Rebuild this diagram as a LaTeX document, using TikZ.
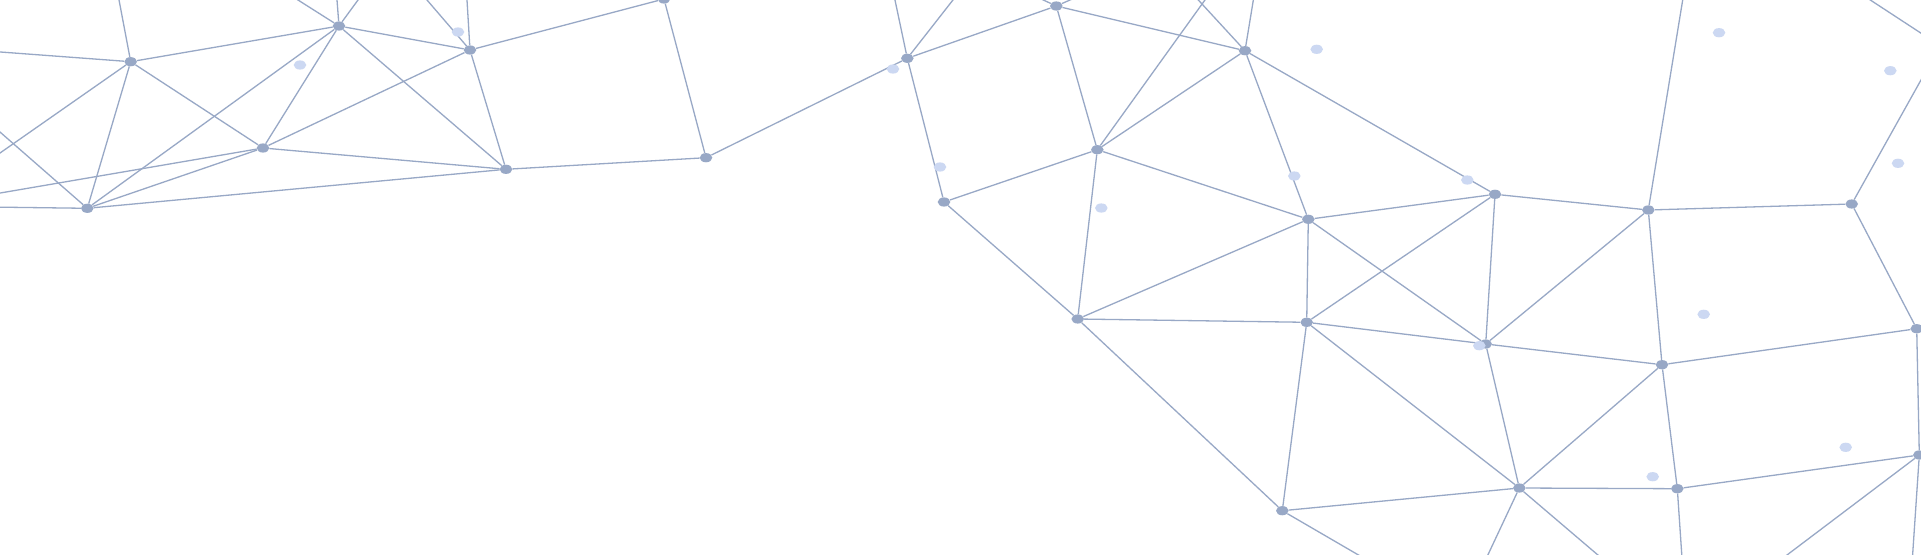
\documentclass[tikz,border=0pt]{standalone}
\usetikzlibrary{shapes.geometric}
\definecolor{meshc}{RGB}{152,168,198}
\definecolor{dotc}{RGB}{204,216,242}
\begin{document}
\begin{tikzpicture}[x=1pt,y=-1pt,
  nd/.style={ellipse,fill=meshc,inner sep=0pt,minimum width=12.6pt,minimum height=9.2pt},
  ld/.style={ellipse,fill=dotc,inner sep=0pt,minimum width=12.6pt,minimum height=9.2pt},
  ln/.style={draw=meshc,line width=1.3pt}]
\useasboundingbox (0,0) rectangle (1921,554);
\clip (0,0) rectangle (1921,554);
\fill[white] (0,0) rectangle (1921,554);
% mesh nodes
\node[nd] (A1) at (130.7,61.7) {};
\node[nd] (A2) at (339,26) {};
\node[nd] (A3) at (470,50) {};
\node[nd] (A4) at (263,148) {};
\node[nd] (A5) at (87.3,208.3) {};
\node[nd] (A6) at (506,169.3) {};
\node[nd] (T1) at (664,-1) {};
\node[nd] (B1) at (706,157.7) {};
\node[nd] (B2) at (907.3,58.3) {};
\node[nd] (B3) at (944,202) {};
\node[nd] (C1) at (1056.3,6) {};
\node[nd] (C2) at (1097.3,149.7) {};
\node[nd] (C3) at (1245,50.7) {};
\node[nd] (C4) at (1308.3,219.3) {};
\node[nd] (D1) at (1077.7,319) {};
\node[nd] (D2) at (1306.7,322.3) {};
\node[nd] (D3) at (1282.3,510.7) {};
\node[nd] (E1) at (1495,194.3) {};
\node[nd] (E2) at (1648.3,210) {};
\node[nd] (E3) at (1485.7,344) {};
\node[nd] (E4) at (1519.3,488) {};
\node[nd] (E5) at (1851.7,204) {};
\node[nd] (E6) at (1662,364.7) {};
\node[nd] (E7) at (1916.7,328.7) {};
\node[nd] (E8) at (1677.3,488.7) {};
\node[nd] (E9) at (1919.3,455) {};
% off-canvas ends
\coordinate (oA1t) at (116.7,-12.3);
\coordinate (oA1l) at (-13,51);
\coordinate (oA1b) at (-13,162.1);
\coordinate (oA5u) at (-13.1,120.6);
\coordinate (oA5l) at (-13,207);
\coordinate (oA4l) at (-13.2,195.3);
\coordinate (oA3u) at (466.4,-10);
\coordinate (oA3ul) at (418.4,-10);
\coordinate (oA2u) at (336.2,-10.4);
\coordinate (oA2ur) at (365.6,-10.4);
\coordinate (oA2ul) at (281.6,-10.4);
\coordinate (oB2u) at (892.5,-11.7);
\coordinate (oB2ur) at (962.1,-11.7);
\coordinate (oC1ul) at (1017.3,-12);
\coordinate (oC1ur) at (1097.4,-12);
\coordinate (oC3ul) at (1189,-10.1);
\coordinate (oC3u) at (1255,-10.1);
\coordinate (oC2ur) at (1212.5,-10.5);
\coordinate (oE2u) at (1684.4,-10.5);
\coordinate (oE5r) at (1927.9,67.6);
\coordinate (oK1) at (1855,-10);
\coordinate (oK2) at (1936,43);
\coordinate (oD3d) at (1375.3,564.8);
\coordinate (oE4dl) at (1482.1,567.2);
\coordinate (oE4dr) at (1612.2,567.2);
\coordinate (oE8d) at (1682.6,567.1);
\coordinate (oE9dl) at (1775.2,563.9);
\coordinate (oE9d) at (1912,563.9);
% connectors
\draw[ln] (A1) -- (oA1t);
\draw[ln] (A1) -- (oA1l);
\draw[ln] (A1) -- (oA1b);
\draw[ln] (A1) -- (A2);
\draw[ln] (A1) -- (A4);
\draw[ln] (A1) -- (A5);
\draw[ln] (A5) -- (oA5u);
\draw[ln] (A5) -- (oA5l);
\draw[ln] (A5) -- (A4);
\draw[ln] (A5) -- (A2);
\draw[ln] (A5) -- (A6);
\draw[ln] (A4) -- (oA4l);
\draw[ln] (A4) -- (A2);
\draw[ln] (A4) -- (A3);
\draw[ln] (A4) -- (A6);
\draw[ln] (A2) -- (A3);
\draw[ln] (A2) -- (A6);
\draw[ln] (A2) -- (oA2u);
\draw[ln] (A2) -- (oA2ur);
\draw[ln] (A2) -- (oA2ul);
\draw[ln] (A3) -- (A6);
\draw[ln] (A3) -- (T1);
\draw[ln] (A3) -- (oA3u);
\draw[ln] (A3) -- (oA3ul);
\draw[ln] (A6) -- (B1);
\draw[ln] (B1) -- (T1);
\draw[ln] (B1) -- (B2);
\draw[ln] (B2) -- (oB2u);
\draw[ln] (B2) -- (oB2ur);
\draw[ln] (B2) -- (C1);
\draw[ln] (B2) -- (B3);
\draw[ln] (B3) -- (C2);
\draw[ln] (B3) -- (D1);
\draw[ln] (C1) -- (C3);
\draw[ln] (C1) -- (C2);
\draw[ln] (C1) -- (oC1ul);
\draw[ln] (C1) -- (oC1ur);
\draw[ln] (C3) -- (C2);
\draw[ln] (C3) -- (C4);
\draw[ln] (C3) -- (E1);
\draw[ln] (C3) -- (oC3ul);
\draw[ln] (C3) -- (oC3u);
\draw[ln] (C2) -- (oC2ur);
\draw[ln] (C2) -- (C4);
\draw[ln] (C2) -- (D1);
\draw[ln] (C4) -- (E1);
\draw[ln] (C4) -- (D1);
\draw[ln] (C4) -- (D2);
\draw[ln] (C4) -- (E3);
\draw[ln] (D1) -- (D2);
\draw[ln] (D1) -- (D3);
\draw[ln] (D2) -- (E1);
\draw[ln] (D2) -- (E3);
\draw[ln] (D2) -- (E4);
\draw[ln] (D2) -- (D3);
\draw[ln] (D3) -- (E4);
\draw[ln] (D3) -- (oD3d);
\draw[ln] (E1) -- (E2);
\draw[ln] (E1) -- (E3);
\draw[ln] (E2) -- (oE2u);
\draw[ln] (E2) -- (E5);
\draw[ln] (E2) -- (E3);
\draw[ln] (E2) -- (E6);
\draw[ln] (E3) -- (E6);
\draw[ln] (E3) -- (E4);
\draw[ln] (E4) -- (E6);
\draw[ln] (E4) -- (E8);
\draw[ln] (E4) -- (oE4dl);
\draw[ln] (E4) -- (oE4dr);
\draw[ln] (E5) -- (oE5r);
\draw[ln] (E5) -- (E7);
\draw[ln] (E6) -- (E7);
\draw[ln] (E6) -- (E8);
\draw[ln] (E7) -- (E9);
\draw[ln] (E8) -- (E9);
\draw[ln] (E8) -- (oE8d);
\draw[ln] (E9) -- (oE9dl);
\draw[ln] (E9) -- (oE9d);
\draw[ln] (oK1) -- (oK2);
% light dots
\node[ld] (L1) at (300,65) {};
\node[ld] (L2) at (458,32) {};
\node[ld] (L3) at (893,69) {};
\node[ld] (L4) at (940,167) {};
\node[ld] (L5) at (1316.7,49.3) {};
\node[ld] (L6) at (1294.3,176) {};
\node[ld] (L7) at (1101.3,208) {};
\node[ld] (L8) at (1467.3,180) {};
\node[ld] (L9) at (1719,32.7) {};
\node[ld] (L10) at (1890.3,70.7) {};
\node[ld] (L11) at (1898,163.3) {};
\node[ld] (L12) at (1479.3,345.7) {};
\node[ld] (L13) at (1703.7,314.3) {};
\node[ld] (L14) at (1652.7,476.7) {};
\node[ld] (L15) at (1845.7,447.3) {};
\end{tikzpicture}
\end{document}
